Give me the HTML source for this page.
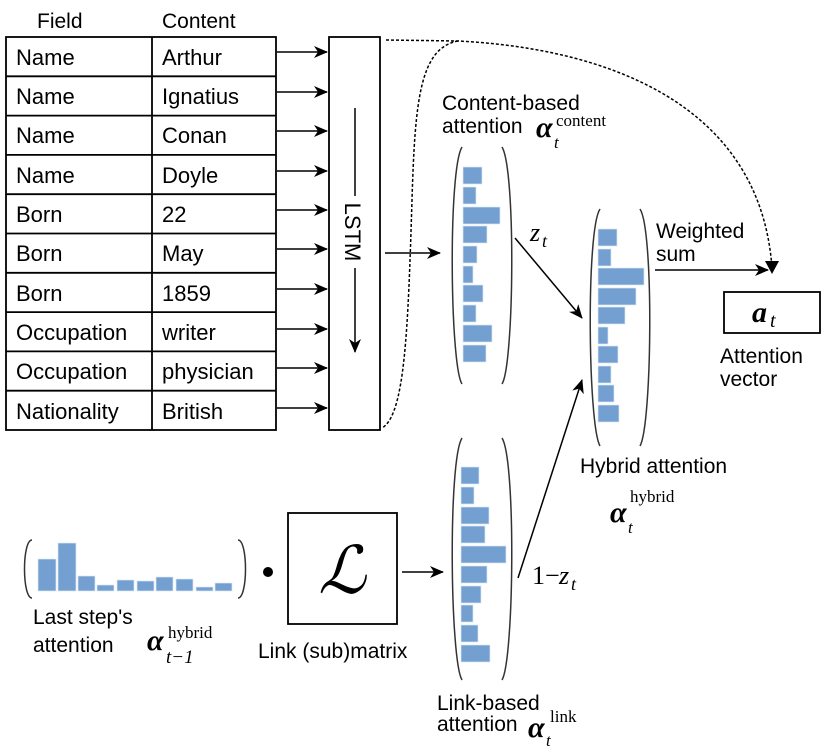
<!DOCTYPE html>
<html><head><meta charset="utf-8"><style>
body{margin:0;background:#fff;}
svg{display:block;}
text{font-family:"Liberation Sans",sans-serif;fill:#000;}
text.m{font-family:"Liberation Serif",serif;}
</style></head><body>
<svg width="830" height="750" viewBox="0 0 830 750" xmlns="http://www.w3.org/2000/svg">
<defs>
<marker id="ar" markerWidth="14" markerHeight="12" refX="13" refY="6" orient="auto" markerUnits="userSpaceOnUse">
<path d="M0,0 L14,6 L0,12 L4,6 Z" fill="#000"/></marker>
</defs>
<text x="37" y="28" font-size="21">Field</text>
<text x="162" y="28" font-size="21">Content</text>
<g stroke="#000" stroke-width="1.8" fill="none">
<rect x="6" y="37" width="270" height="393"/>
<line x1="152" y1="37" x2="152" y2="430"/>
<line x1="6" y1="76.3" x2="276" y2="76.3"/><line x1="6" y1="115.6" x2="276" y2="115.6"/>
<line x1="6" y1="154.9" x2="276" y2="154.9"/><line x1="6" y1="194.2" x2="276" y2="194.2"/>
<line x1="6" y1="233.5" x2="276" y2="233.5"/><line x1="6" y1="272.8" x2="276" y2="272.8"/>
<line x1="6" y1="312.1" x2="276" y2="312.1"/><line x1="6" y1="351.4" x2="276" y2="351.4"/>
<line x1="6" y1="390.7" x2="276" y2="390.7"/>
<rect x="329" y="37" width="51" height="393"/>
</g>
<g font-size="22">
<text x="16" y="65">Name</text><text x="162" y="65">Arthur</text>
<text x="16" y="104">Name</text><text x="162" y="104">Ignatius</text>
<text x="16" y="143">Name</text><text x="162" y="143">Conan</text>
<text x="16" y="183">Name</text><text x="162" y="183">Doyle</text>
<text x="16" y="222">Born</text><text x="162" y="222">22</text>
<text x="16" y="261">Born</text><text x="162" y="261">May</text>
<text x="16" y="301">Born</text><text x="162" y="301">1859</text>
<text x="16" y="340">Occupation</text><text x="162" y="340">writer</text>
<text x="16" y="379">Occupation</text><text x="162" y="379">physician</text>
<text x="16" y="419">Nationality</text><text x="162" y="419">British</text>
</g>
<g stroke="#000" stroke-width="1.5" marker-end="url(#ar)">
<line x1="277" y1="52" x2="327" y2="52"/><line x1="277" y1="92" x2="327" y2="92"/>
<line x1="277" y1="131" x2="327" y2="131"/><line x1="277" y1="171" x2="327" y2="171"/>
<line x1="277" y1="210" x2="327" y2="210"/><line x1="277" y1="249" x2="327" y2="249"/>
<line x1="277" y1="289" x2="327" y2="289"/><line x1="277" y1="329" x2="327" y2="329"/>
<line x1="277" y1="368" x2="327" y2="368"/><line x1="277" y1="408" x2="327" y2="408"/>
<line x1="355" y1="268" x2="355" y2="352"/>
<line x1="385" y1="253" x2="440" y2="253"/>
<line x1="515" y1="238" x2="582" y2="318"/>
<line x1="518" y1="578" x2="582" y2="380"/>
<line x1="655" y1="270" x2="768" y2="270"/>
<line x1="402" y1="572" x2="443" y2="572"/>
</g>
<line x1="355" y1="108" x2="355" y2="196" stroke="#000" stroke-width="1.5"/>
<text transform="translate(345,232) rotate(90)" font-size="22" text-anchor="middle">LSTM</text>
<g stroke="#000" stroke-width="1.5" fill="none" stroke-dasharray="3,2">
<path d="M386,40 L458,41 C600,48 760,100 772,268"/>
<path d="M458,41 C420,48 415,100 412,200 C408,330 405,415 382,428"/>
</g>
<polygon points="765,261 779,261 772,274" fill="#000"/>
<g stroke="#333" stroke-width="1.5" fill="none">
<path d="M462,147 C448,170 450,365 462,384"/><path d="M502,147 C516,170 514,365 502,384"/>
<path d="M600,209 C586,230 588,425 600,446"/><path d="M640,209 C654,230 652,425 640,446"/>
<path d="M462,438 C448,460 450,660 462,680"/><path d="M502,438 C516,460 514,660 502,680"/>
<path d="M32,540 C22,540 22,598 32,598"/><path d="M238,540 C248,540 248,598 238,598"/>
<rect x="288" y="513" width="109" height="111" stroke="#000" stroke-width="1.8"/>
<rect x="724" y="292" width="96" height="41" stroke="#000" stroke-width="1.8"/>
</g>
<g fill="#739fd1" stroke="#dce8f5" stroke-width="0.7">
<rect x="463" y="167" width="19" height="17"/><rect x="463" y="187" width="13" height="17"/>
<rect x="463" y="207" width="37" height="17"/><rect x="463" y="226" width="24" height="17"/>
<rect x="463" y="246" width="14" height="17"/><rect x="463" y="266" width="10" height="17"/>
<rect x="463" y="285" width="20" height="17"/><rect x="463" y="305" width="13" height="17"/>
<rect x="463" y="325" width="29" height="17"/><rect x="463" y="345" width="23" height="17"/>
<rect x="598" y="229" width="19" height="17"/><rect x="598" y="249" width="13" height="17"/>
<rect x="598" y="268" width="46" height="17"/><rect x="598" y="288" width="38" height="17"/>
<rect x="598" y="307" width="27" height="17"/><rect x="598" y="327" width="10" height="17"/>
<rect x="598" y="346" width="20" height="17"/><rect x="598" y="366" width="13" height="17"/>
<rect x="598" y="385" width="16" height="17"/><rect x="598" y="405" width="21" height="17"/>
<rect x="461" y="467" width="18" height="17"/><rect x="461" y="487" width="13" height="17"/>
<rect x="461" y="507" width="28" height="17"/><rect x="461" y="526" width="24" height="17"/>
<rect x="461" y="546" width="45" height="17"/><rect x="461" y="566" width="26" height="17"/>
<rect x="461" y="586" width="20" height="17"/><rect x="461" y="605" width="12" height="17"/>
<rect x="461" y="625" width="17" height="17"/><rect x="461" y="645" width="29" height="17"/>
<rect x="38" y="559" width="18" height="32"/><rect x="58" y="543" width="18" height="48"/>
<rect x="78" y="576" width="17" height="15"/><rect x="97" y="585" width="17" height="6"/>
<rect x="117" y="580" width="17" height="11"/><rect x="137" y="581" width="17" height="10"/>
<rect x="156" y="577" width="17" height="14"/><rect x="176" y="579" width="17" height="12"/>
<rect x="196" y="587" width="17" height="4"/><rect x="215" y="583" width="17" height="8"/>
</g>
<circle cx="268" cy="572" r="5" fill="#000"/>
<text x="342" y="593" class="m" font-size="66" font-style="italic" text-anchor="middle">ℒ</text>
<g font-size="21">
<text x="442" y="110">Content-based</text>
<text x="442" y="133">attention</text>
<text x="656" y="238">Weighted</text><text x="656" y="261">sum</text>
<text x="720" y="363">Attention</text><text x="720" y="386">vector</text>
<text x="580" y="473">Hybrid attention</text>
<text x="33" y="624">Last step's</text><text x="33" y="652">attention</text>
<text x="258" y="658">Link (sub)matrix</text>
<text x="437" y="710">Link-based</text><text x="437" y="731">attention</text>
</g>
<text x="536" y="137" font-size="30" font-weight="bold" font-style="italic" class="m">α</text>
<text x="554" y="148" font-size="17" font-style="italic" class="m">t</text>
<text x="556" y="126" font-size="17" class="m">content</text>
<text x="610" y="522" font-size="30" font-weight="bold" font-style="italic" class="m">α</text>
<text x="628" y="533" font-size="17" font-style="italic" class="m">t</text>
<text x="630" y="502" font-size="17" class="m">hybrid</text>
<text x="147" y="650" font-size="30" font-weight="bold" font-style="italic" class="m">α</text>
<text x="166" y="663" font-size="19" font-style="italic" class="m">t−1</text>
<text x="168" y="638" font-size="17" class="m">hybrid</text>
<text x="528" y="737" font-size="30" font-weight="bold" font-style="italic" class="m">α</text>
<text x="546" y="746" font-size="17" font-style="italic" class="m">t</text>
<text x="550" y="722" font-size="17" class="m">link</text>
<text x="752" y="322" font-size="30" font-weight="bold" font-style="italic" class="m">a</text>
<text x="770" y="327" font-size="20" font-style="italic" class="m">t</text>
<text x="530" y="241" font-size="26" font-style="italic" class="m">z</text>
<text x="542" y="247" font-size="18" font-style="italic" class="m">t</text>
<text x="532" y="584" font-size="26" class="m">1−</text>
<text x="559" y="584" font-size="26" font-style="italic" class="m">z</text>
<text x="571" y="590" font-size="18" font-style="italic" class="m">t</text>
</svg>
</body></html>
